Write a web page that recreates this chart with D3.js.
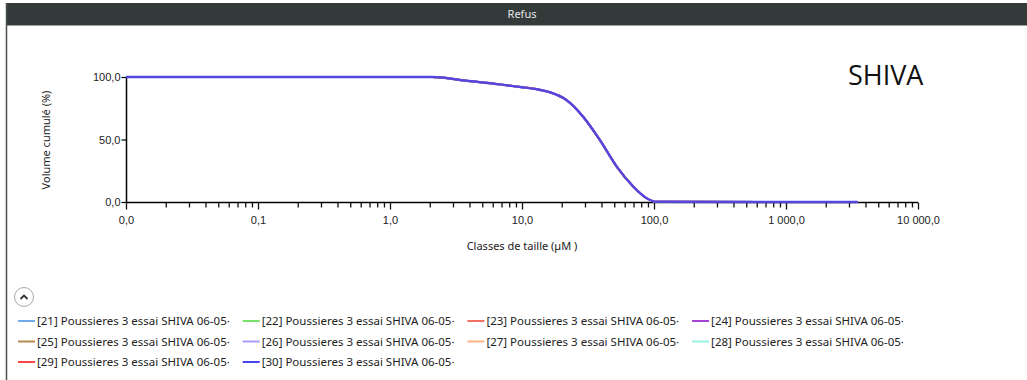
<!DOCTYPE html>
<html><head><meta charset="utf-8">
<script src="https://cdn.jsdelivr.net/npm/d3@7"></script>
<style>
body{margin:0;background:#fff;}
svg{display:block;font-family:"Noto Sans","Open Sans",sans-serif;}
</style></head>
<body><svg id="c" width="1027" height="380"></svg>
<script>
// ---- data ----
const sizes  = [0.01, 2.1, 3.8, 6.8, 10, 13, 16.3, 21.7, 29, 38.9, 52.2, 69.7, 88, 104, 3500];
const volume = [100, 100, 97, 94.1, 91.8, 90.2, 87.8, 81.6, 68.3, 49.6, 28.3, 12.3, 3, 0.2, 0];
const seriesNames = ["[21] Poussieres 3 essai SHIVA 06-05·","[22] Poussieres 3 essai SHIVA 06-05·","[23] Poussieres 3 essai SHIVA 06-05·","[24] Poussieres 3 essai SHIVA 06-05·","[25] Poussieres 3 essai SHIVA 06-05·","[26] Poussieres 3 essai SHIVA 06-05·","[27] Poussieres 3 essai SHIVA 06-05·","[28] Poussieres 3 essai SHIVA 06-05·","[29] Poussieres 3 essai SHIVA 06-05·","[30] Poussieres 3 essai SHIVA 06-05·"];
const seriesColors = ["#72aaec","#7ae06c","#f07262","#a444d4","#b8894e","#aa9cf8","#ffb486","#96f2e2","#ff4646","#4444f0"];
const xTickValues = [0.01, 0.1, 1, 10, 100, 1000, 10000];
const xTickLabels = ["0,0","0,1","1,0","10,0","100,0","1 000,0","10 000,0"];
const yTickValues = [0, 50, 100];
const yTickLabels = ["0,0","50,0","100,0"];

const svg = d3.select("#c");
// frame
svg.append("rect").attr("x",6).attr("y",3).attr("width",1021).attr("height",22).attr("fill","#343a3a");
svg.append("line").attr("x1",6).attr("x2",1027).attr("y1",25.5).attr("y2",25.5).attr("stroke","#9aa0a4");
svg.append("line").attr("x1",6.5).attr("x2",6.5).attr("y1",3).attr("y2",380).attr("stroke","#4a4f50").attr("stroke-width",1.5);
svg.append("text").attr("x",522).attr("y",18).attr("text-anchor","middle").attr("fill","#e6e6e6").attr("font-size",11).text("Refus");

const x = d3.scaleLog().domain([0.01,10000]).range([126,918]);
const y = d3.scaleLinear().domain([0,100]).range([202,77]);

// x axis
const minor = [];
for (let d=0.01; d<10000; d*=10) for (let k=2;k<=9;k++) minor.push(+(d*k).toPrecision(3));
const gx = svg.append("g").attr("transform","translate(0,202.5)");
const gMinor = gx.append("g").call(d3.axisBottom(x).tickValues(minor).tickSize(5).tickFormat(""));
gMinor.select("path.domain").remove();
const gMajor = gx.append("g").call(d3.axisBottom(x).tickValues(xTickValues).tickSize(7).tickFormat((d,i)=>xTickLabels[i]));
gMajor.select("path.domain").attr("d","M126,0H918").attr("stroke","#000").attr("stroke-width",1.5);
gx.selectAll(".tick line").attr("stroke","#111").attr("stroke-width",1.3);
gMajor.selectAll("text").attr("font-size",11).attr("fill","#222").attr("dy","1.05em");

// y axis
const gy = svg.append("g").attr("transform","translate(126.5,0)");
gy.call(d3.axisLeft(y).tickValues(yTickValues).tickSize(5).tickFormat((d,i)=>yTickLabels[i]));
gy.selectAll("path.domain").attr("d","M0,77V202.5").attr("stroke","#000").attr("stroke-width",1.5);
gy.selectAll(".tick line").attr("stroke","#000").attr("stroke-width",1.2);
gy.selectAll("text").attr("font-size",11).attr("fill","#222").attr("x",-6);

svg.append("text").attr("transform","translate(50,140) rotate(-90)").attr("text-anchor","middle")
  .attr("font-size",11).attr("fill","#222").text("Volume cumulé (%)");
svg.append("text").attr("x",522).attr("y",250).attr("text-anchor","middle")
  .attr("font-size",11).attr("fill","#222").text("Classes de taille  (µM )");

// lines
const pts = sizes.map((s,i)=>[s,volume[i]]);
const line = d3.line().x(d=>x(d[0])).y(d=>y(d[1])).curve(d3.curveMonotoneX);
seriesNames.forEach((n,i)=>{
  svg.append("path").datum(pts).attr("d",line).attr("fill","none")
    .attr("stroke",seriesColors[i]).attr("stroke-width",i===9?2.4:2).attr("opacity",i===9?0.9:1);
});

svg.append("text").attr("x",848).attr("y",85).attr("font-size",27).attr("fill","#111")
  .attr("font-family","Open Sans").text("SHIVA");

// collapse button
svg.append("circle").attr("cx",24).attr("cy",297).attr("r",9.5).attr("fill","#fff").attr("stroke","#a8a8a8");
svg.append("path").attr("d","M20.5,299 L24,295.5 L27.5,299").attr("fill","none").attr("stroke","#333").attr("stroke-width",1.8);

// legend
const leg = svg.append("g");
seriesNames.forEach((n,i)=>{
  const col=i%4, row=Math.floor(i/4);
  const lx=18+col*224.7, ly=321+row*20.5;
  leg.append("line").attr("x1",lx).attr("x2",lx+17).attr("y1",ly).attr("y2",ly)
    .attr("stroke",seriesColors[i]).attr("stroke-width",2);
  leg.append("text").attr("x",lx+19).attr("y",ly+4).attr("font-size",11.5).attr("fill","#222")
    .attr("text-anchor","start").text(n);
});
</script></body></html>
